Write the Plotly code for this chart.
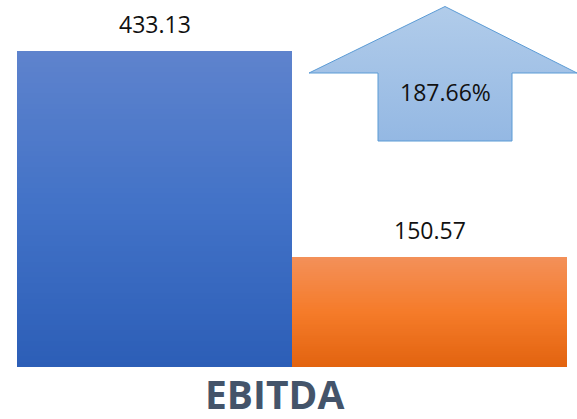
import plotly.graph_objects as go

# ---- data ----
categories = ["Period 1", "Period 2"]
ebitda = [433.13, 150.57]
value_labels = ["433.13", "150.57"]
title_text = "EBITDA"
change_pct = (ebitda[0] - ebitda[1]) / ebitda[1] * 100  # 187.66 %

# ---- style ----
W, H = 577, 419
bar_stops = [
    ["#5E83CD", "#4272C7", "#2C5EB7"],   # blue: top, middle, bottom
    ["#F39059", "#F57B29", "#E2630F"],   # orange: top, middle, bottom
]
N_SEG = 60

# decorative arrow outline (figure pixel coordinates)
arrow_x = [445, 577, 512, 512, 378, 378, 309, 445]
arrow_y = [6.5, 73, 73, 141, 141, 73, 73, 6.5]


def hex2rgb(h):
    h = h.lstrip("#")
    return [int(h[i:i + 2], 16) for i in (0, 2, 4)]


def lerp_color(stops, t):
    # t=0 -> bottom, t=1 -> top
    s = stops[::-1]
    pos = t * (len(s) - 1)
    i = min(int(pos), len(s) - 2)
    f = pos - i
    a, b = hex2rgb(s[i]), hex2rgb(s[i + 1])
    c = [round(a[k] + (b[k] - a[k]) * f) for k in range(3)]
    return "rgb(%d,%d,%d)" % tuple(c)


fig = go.Figure()

# gradient bars built from stacked slices of each value
for j in range(N_SEG):
    t = (j + 0.5) / N_SEG
    fig.add_trace(go.Bar(
        x=categories,
        y=[v / N_SEG for v in ebitda],
        marker=dict(color=[lerp_color(bar_stops[i], t) for i in range(len(ebitda))],
                    line=dict(width=0)),
        hoverinfo="skip",
        showlegend=False,
    ))

# arrow decoration with vertical gradient
fig.add_trace(go.Scatter(
    x=arrow_x, y=arrow_y,
    xaxis="x2", yaxis="y2",
    mode="lines", fill="toself",
    line=dict(color="#5B9BD5", width=1),
    fillgradient=dict(type="vertical",
                      colorscale=[[0, "#94B8E3"], [1, "#B1CCEA"]]),
    hoverinfo="skip", showlegend=False,
))

plot_h = 367
px_per_unit = 0.7296
bar_left_px, bar_right_px = 17, 567
unit_px = (bar_right_px - bar_left_px) / len(categories)

annotations = []
for c, v, lab in zip(categories, ebitda, value_labels):
    annotations.append(dict(
        x=c, y=v, xref="x", yref="y", text=lab, showarrow=False,
        yshift=27, font=dict(family="Open Sans", size=23, color="#111111"),
    ))
annotations.append(dict(
    x=445, y=92, xref="x2", yref="y2", text="%.2f%%" % change_pct,
    showarrow=False, font=dict(family="Open Sans", size=23, color="#111111"),
))
annotations.append(dict(
    x=274 / W, y=-(393 - plot_h) / plot_h, xref="paper", yref="paper",
    text="<b>%s</b>" % title_text, showarrow=False, yanchor="middle",
    font=dict(family="Open Sans", size=39, color="#44546A"),
))

fig.update_layout(
    width=W, height=H,
    margin=dict(l=0, r=0, t=0, b=H - plot_h, pad=0),
    paper_bgcolor="white", plot_bgcolor="white",
    barmode="stack", bargap=0,
    xaxis=dict(visible=False,
               range=[-0.5 - bar_left_px / unit_px,
                      len(categories) - 0.5 + (W - bar_right_px) / unit_px]),
    yaxis=dict(visible=False, range=[0, plot_h / px_per_unit]),
    xaxis2=dict(visible=False, overlaying="x", range=[0, W]),
    yaxis2=dict(visible=False, overlaying="y", range=[plot_h, 0]),
    annotations=annotations,
)

fig.write_html(
    "out.html",
    config={"displayModeBar": False},
    post_script="document.body.style.margin='0';document.body.style.padding='0';",
)
